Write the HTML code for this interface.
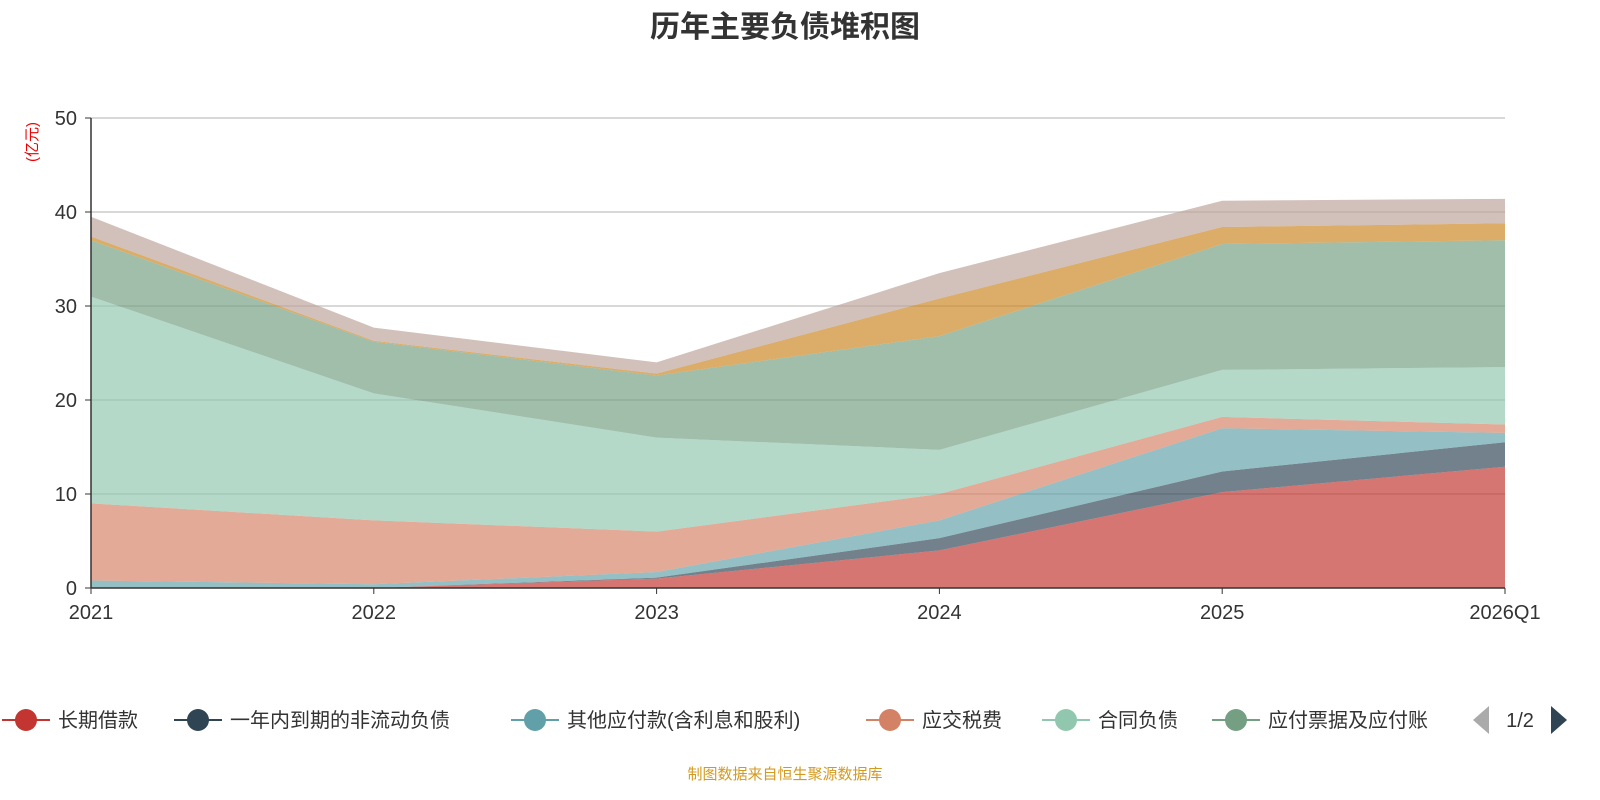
<!DOCTYPE html>
<html><head><meta charset="utf-8"><style>
body{margin:0;background:#fff;font-family:"Liberation Sans","Noto Sans CJK SC",sans-serif;}
svg{display:block}
</style></head><body>
<svg id="chart" width="1600" height="800" xmlns="http://www.w3.org/2000/svg" font-family="Liberation Sans, Noto Sans CJK SC, sans-serif">
<text x="785" y="37" text-anchor="middle" font-size="30" font-weight="bold" fill="#333">历年主要负债堆积图</text>
<text transform="translate(37,142) rotate(-90)" text-anchor="middle" font-size="15" fill="#e00">(亿元)</text>
<g id="grid"></g>
<g id="areas"></g>
<g id="axes"></g>
<g id="legend"></g>
<text x="785" y="779" text-anchor="middle" font-size="15" fill="#d49a20">制图数据来自恒生聚源数据库</text>
</svg>
<script>
const categories=["2021","2022","2023","2024","2025","2026Q1"];
const seriesNames=["长期借款","一年内到期的非流动负债","其他应付款(含利息和股利)","应交税费","合同负债","应付票据及应付账款","其他流动负债","其他"];
const sLong=[0,0,1.0,4.0,10.2,12.9];
const sCurrent=[0,0,0.1,1.3,2.2,2.6];
const sOther=[0.8,0.4,0.6,1.9,4.6,1.0];
const sTax=[8.2,6.8,4.3,2.8,1.2,0.9];
const sContract=[22,13.5,10,4.7,5.0,6.1];
const sPayable=[6,5.5,6.6,12.1,13.4,13.5];
const sOrange=[0.4,0.1,0.2,4.0,1.8,1.8];
const sPink=[2.1,1.4,1.2,2.7,2.8,2.6];
const yTicks=[0,10,20,30,40,50];
const series=[sLong,sCurrent,sOther,sTax,sContract,sPayable,sOrange,sPink];
const colors=["#c23531","#2f4554","#61a0a8","#d48265","#91c7ae","#749f83","#ca8622","#bda29a"];
const NS="http://www.w3.org/2000/svg";
const x0=91,x1=1505,y0=588,y1=118,ymax=50;
const X=i=>x0+(x1-x0)*i/(categories.length-1);
const Y=v=>y0-(y0-y1)*v/ymax;
function mk(t,a,p){const e=document.createElementNS(NS,t);for(const k in a)e.setAttribute(k,a[k]);p.appendChild(e);return e;}
const grid=document.getElementById('grid'),axes=document.getElementById('axes'),areas=document.getElementById('areas'),legend=document.getElementById('legend');
yTicks.forEach(v=>{
 if(v>0){const l=mk('line',{x1:x0,x2:x1,y1:Y(v),y2:Y(v),stroke:'#ccc','stroke-width':1.5},grid);
 
 }
 const t=mk('text',{x:x0-14,y:Y(v)+7,'text-anchor':'end','font-size':20,fill:'#333'},axes);t.textContent=v;
 
 
 mk('line',{x1:x0-6,x2:x0,y1:Y(v),y2:Y(v),stroke:'#333'},axes);
});
let base=categories.map(()=>0);
series.forEach((s,k)=>{
 const top=base.map((b,i)=>b+s[i]);
 let d='M'+top.map((v,i)=>X(i)+','+Y(v)).join(' L');
 for(let i=categories.length-1;i>=0;i--)d+=' L'+X(i)+','+Y(base[i]);
 const p=mk('path',{d:d+'Z',fill:colors[k],'fill-opacity':0.68,stroke:'none'},areas);
 
 
 base=top;
});
mk('line',{x1:x0,x2:x0,y1:y1,y2:y0,stroke:'#333','stroke-width':1.5},axes);
mk('line',{x1:x0,x2:x1,y1:y0,y2:y0,stroke:'#333','stroke-width':1.5},axes);
categories.forEach((c,i)=>{
 mk('line',{x1:X(i),x2:X(i),y1:y0,y2:y0+6,stroke:'#333'},axes);
 const t=mk('text',{x:X(i),y:y0+31,'text-anchor':'middle','font-size':20,fill:'#333'},axes);t.textContent=c;
 
 
});
const legX=[0,172,509,864,1040,1210];
const legLabels=["长期借款","一年内到期的非流动负债","其他应付款(含利息和股利)","应交税费","合同负债","应付票据及应付账"];
legLabels.forEach((n,k)=>{
 const g=mk('g',{},legend);
 
 
 const x=legX[k];
 mk('line',{x1:x+2,x2:x+50,y1:720,y2:720,stroke:colors[k],'stroke-width':2},g);
 mk('circle',{cx:x+26,cy:720,r:11,fill:colors[k]},g);
 const t=mk('text',{x:x+58,y:727,'font-size':20,fill:'#333'},g);t.textContent=n;
});
const pl=mk('path',{d:'M1473,720 L1489,706 L1489,734Z',fill:'#aaa'},legend);


const pt=mk('text',{x:1520,y:727,'text-anchor':'middle','font-size':20,fill:'#333'},legend);pt.textContent='1/2';


const pn=mk('path',{d:'M1551,706 L1567,720 L1551,734Z',fill:'#2f4554'},legend);


</script>
</body></html>
